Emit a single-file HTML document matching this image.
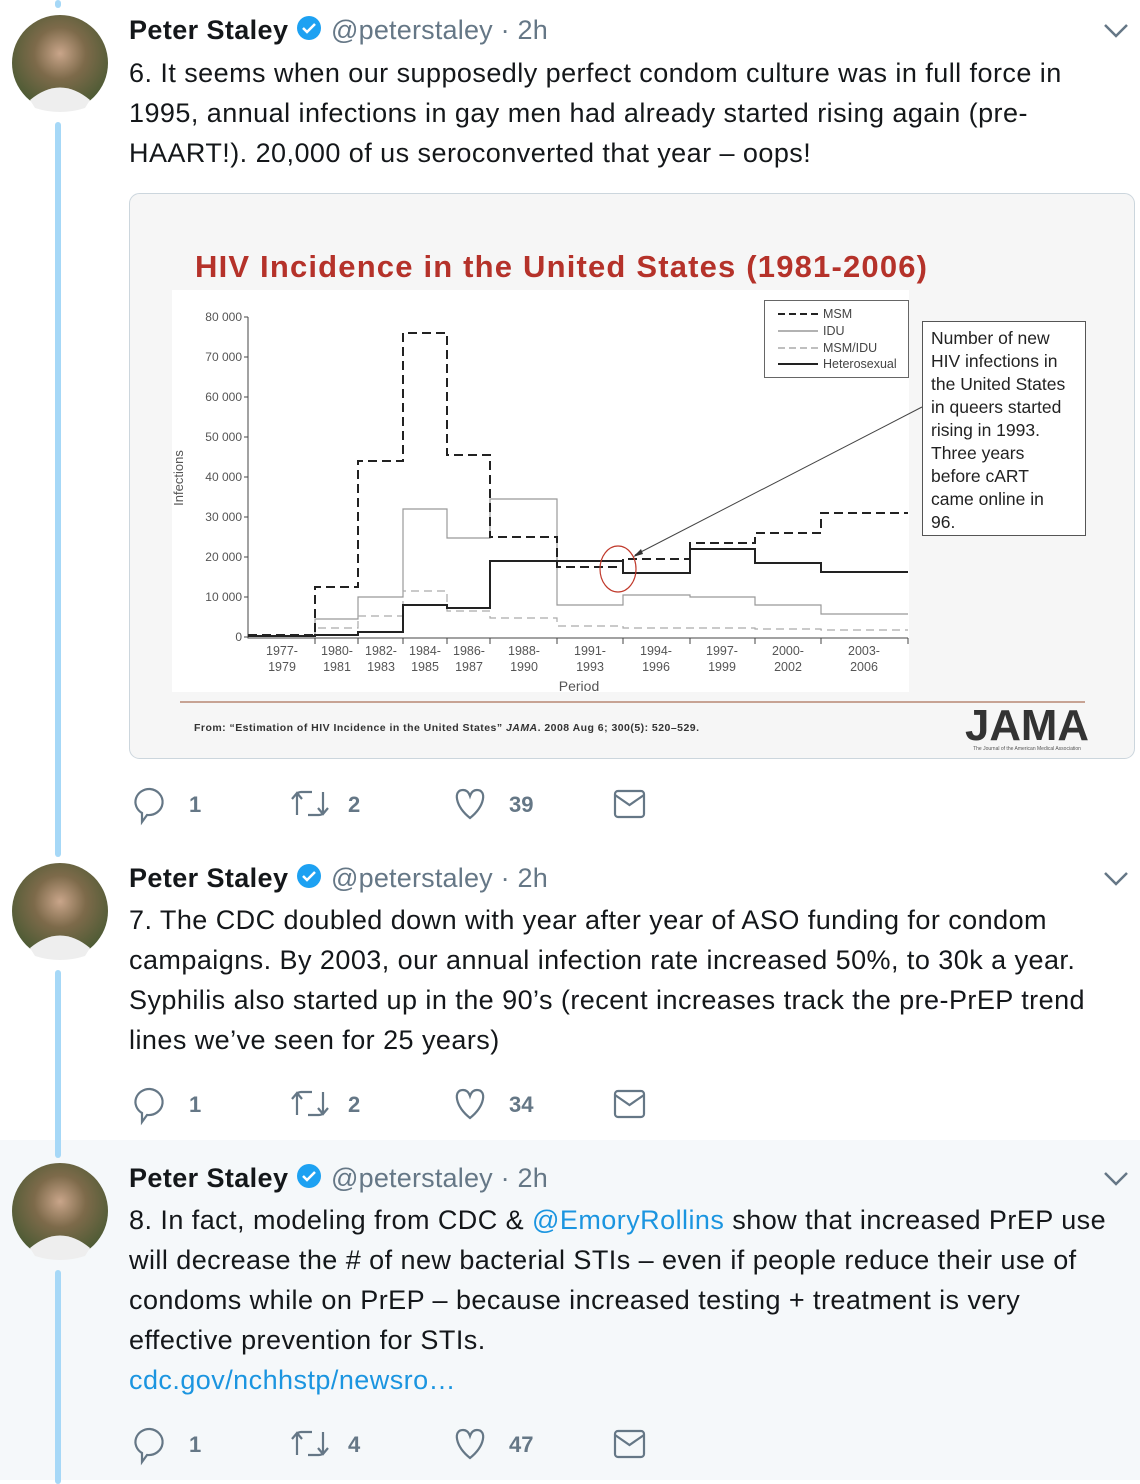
<!DOCTYPE html>
<html><head><meta charset="utf-8"><style>
body{margin:0;width:1140px;height:1484px;position:relative;background:#fff;font-family:"Liberation Sans",sans-serif;overflow:hidden}
.a{position:absolute}
.t{position:absolute;left:129px;font-size:27px;letter-spacing:0.45px;color:#14171a;line-height:40px;white-space:nowrap}
.nm{font-weight:bold;letter-spacing:0.4px}
.h{position:absolute;left:331px;color:#657786;font-size:27px;line-height:40px;white-space:nowrap;letter-spacing:0.2px}
.lnk{color:#1b95e0}
</style></head><body>
<div class="a" style="left:0;top:1140px;width:1140px;height:340px;background:#f5f8fa"></div>
<svg class="a" style="left:0;top:0" width="1140" height="1484" viewBox="0 0 1140 1484" font-family="Liberation Sans, sans-serif">
<defs><radialGradient id="av" cx="50%" cy="40%" r="60%"><stop offset="0" stop-color="#c9a58a"/><stop offset="0.45" stop-color="#7d6a4a"/><stop offset="1" stop-color="#4a5a33"/></radialGradient></defs>
<g fill="#a6d8f7"><rect x="55" y="0" width="6" height="8" rx="3"/><rect x="55" y="122" width="6" height="735" rx="3"/><rect x="55" y="970" width="6" height="188" rx="3"/><rect x="55" y="1270" width="6" height="214" rx="3"/></g>
<g><circle cx="60" cy="63" r="48" fill="url(#av)"/><path d="M30,100 Q60,75 90,100 L85,108 Q60,116 35,108Z" fill="#eee"/>
<circle cx="60" cy="911" r="48" fill="url(#av)"/><path d="M30,948 Q60,923 90,948 L85,956 Q60,964 35,956Z" fill="#eee"/>
<circle cx="60" cy="1211" r="48" fill="url(#av)"/><path d="M30,1248 Q60,1223 90,1248 L85,1256 Q60,1264 35,1256Z" fill="#eee"/></g>
<g fill="none" stroke="#657786" stroke-width="2.5"><path d="M1105,25 L1116,36 L1127,25"/><path d="M1105,873 L1116,884 L1127,873"/><path d="M1105,1173 L1116,1184 L1127,1173"/></g>
<g fill="#1da1f2"><circle cx="309" cy="28" r="12"/><circle cx="309" cy="876" r="12"/><circle cx="309" cy="1176" r="12"/></g>
<g fill="none" stroke="#fff" stroke-width="2.5"><path d="M303,28 l4,4 l8,-8"/><path d="M303,876 l4,4 l8,-8"/><path d="M303,1176 l4,4 l8,-8"/></g>
<rect x="129.5" y="193.5" width="1005" height="565" rx="10" fill="#f6f6f6" stroke="#ccd6dd"/>
<rect x="172" y="290" width="737" height="402" fill="#fff"/>
<text x="195" y="277" font-size="31" font-weight="bold" fill="#b5322a" textLength="732">HIV Incidence in the United States (1981-2006)</text>
<g stroke="#444" stroke-width="1" fill="none"><path d="M248,317 V638 H908"/>
<path d="M244,317H248M244,357H248M244,397H248M244,437H248M244,477H248M244,517H248M244,557H248M244,597H248M244,637H248"/>
<path d="M315,638v6M358,638v6M403,638v6M447,638v6M490,638v6M557,638v6M623,638v6M690,638v6M755,638v6M821,638v6M908,638v6"/></g>
<g font-size="12" fill="#555" text-anchor="end"><text x="242" y="321">80 000</text><text x="242" y="361">70 000</text><text x="242" y="401">60 000</text><text x="242" y="441">50 000</text><text x="242" y="481">40 000</text><text x="242" y="521">30 000</text><text x="242" y="561">20 000</text><text x="242" y="601">10 000</text><text x="242" y="641">0</text></g>
<text transform="translate(183,478) rotate(-90)" font-size="13" fill="#555" text-anchor="middle">Infections</text>
<g font-size="12.5" fill="#555" text-anchor="middle">
<text x="282" y="655">1977-</text><text x="282" y="671">1979</text>
<text x="337" y="655">1980-</text><text x="337" y="671">1981</text>
<text x="381" y="655">1982-</text><text x="381" y="671">1983</text>
<text x="425" y="655">1984-</text><text x="425" y="671">1985</text>
<text x="469" y="655">1986-</text><text x="469" y="671">1987</text>
<text x="524" y="655">1988-</text><text x="524" y="671">1990</text>
<text x="590" y="655">1991-</text><text x="590" y="671">1993</text>
<text x="656" y="655">1994-</text><text x="656" y="671">1996</text>
<text x="722" y="655">1997-</text><text x="722" y="671">1999</text>
<text x="788" y="655">2000-</text><text x="788" y="671">2002</text>
<text x="864" y="655">2003-</text><text x="864" y="671">2006</text>
<text x="579" y="691" font-size="14">Period</text></g>
<g fill="none">
<path d="M248,636 H315 V619 H358 V597 H403 V509 H447 V538 H490 V499 H557 V605 H623 V595 H690 V597 H755 V605 H821 V614 H908" stroke="#999" stroke-width="1.2"/>
<path d="M248,636 H315 V628 H358 V616 H403 V591 H447 V611 H490 V618 H557 V626 H623 V628 H690 V628 H755 V629 H821 V630 H908" stroke="#aaa" stroke-width="1.2" stroke-dasharray="8,5"/>
<path d="M248,636 H315 V635 H358 V632 H403 V605 H447 V608 H490 V561 H557 V561 H623 V573 H690 V549 H755 V563 H821 V572 H908" stroke="#222" stroke-width="2"/>
<path d="M248,635 H315 V587 H358 V461 H403 V333 H447 V455 H490 V537 H557 V567 H623 V559 H690 V543 H755 V533 H821 V513 H908" stroke="#222" stroke-width="2" stroke-dasharray="9,5"/>
</g>
<rect x="764.5" y="300.5" width="144" height="77" fill="#fff" stroke="#666"/>
<g stroke-width="1.5"><path d="M778,314H818" stroke="#222" stroke-width="2" stroke-dasharray="7,4"/><path d="M778,331H818" stroke="#999"/><path d="M778,348H818" stroke="#aaa" stroke-dasharray="7,4"/><path d="M778,364H818" stroke="#222" stroke-width="2"/></g>
<g font-size="12.5" fill="#444"><text x="823" y="318">MSM</text><text x="823" y="335">IDU</text><text x="823" y="352">MSM/IDU</text><text x="823" y="368">Heterosexual</text></g>
<path d="M922,407 L635,555" stroke="#444" stroke-width="1"/><path d="M633,557 l8,-8 l2,5z" fill="#333"/>
<ellipse cx="618" cy="569" rx="18" ry="23" fill="none" stroke="#c0392b" stroke-width="1.2"/>
<rect x="922.5" y="321.5" width="163" height="214" fill="#fff" stroke="#555"/>
<g font-size="17.5" fill="#222"><text x="931" y="344">Number of new</text><text x="931" y="367">HIV infections in</text><text x="931" y="390">the United States</text><text x="931" y="413">in queers started</text><text x="931" y="436">rising in 1993.</text><text x="931" y="459">Three years</text><text x="931" y="482">before cART</text><text x="931" y="505">came online in</text><text x="931" y="528">96.</text></g>
<path d="M180,702 H1085" stroke="#c7a394" stroke-width="2"/>
<text x="194" y="731" font-size="10.5" font-weight="bold" fill="#333" textLength="505">From: “Estimation of HIV Incidence in the United States” <tspan font-style="italic">JAMA</tspan>. 2008 Aug 6; 300(5): 520–529.</text>
<text x="1027" y="740" font-size="44" font-weight="bold" fill="#333" text-anchor="middle" textLength="124" lengthAdjust="spacingAndGlyphs">JAMA</text>
<text x="1027" y="750" font-size="5" fill="#555" text-anchor="middle">The Journal of the American Medical Association</text>
<g id="act" fill="none" stroke="#657786" stroke-width="2.2">
<path d="M150,789 a14,13 0 1 1 -3,26 l-5,7 v-9 a14,13 0 0 1 8,-24z"/>
<path d="M297,815 v-19 q0,-4 4,-4 h11 M292,799 l5,-6 l5,6 M323,792 v19 q0,4 -4,4 h-11 M318,808 l5,6 l5,-6"/>
<path d="M470,818 C455,806 453,790 463,790 C467,790 469,793 470,796 C471,793 473,790 477,790 C487,790 485,806 470,818z"/>
<rect x="615" y="791" width="29" height="26" rx="3"/><path d="M615,795 l14.5,10 l14.5,-10"/>
</g>
<use href="#act" y="300"/><use href="#act" y="640"/>
<g font-size="22" font-weight="bold" fill="#657786"><text x="189" y="812">1</text><text x="348" y="812">2</text><text x="509" y="812">39</text>
<text x="189" y="1112">1</text><text x="348" y="1112">2</text><text x="509" y="1112">34</text>
<text x="189" y="1452">1</text><text x="348" y="1452">4</text><text x="509" y="1452">47</text></g>
</svg>
<div class="t" style="top:10px"><span class="nm">Peter Staley</span></div><div class="h" style="top:10px">@peterstaley · 2h</div>
<div class="t" style="top:53px">6. It seems when our supposedly perfect condom culture was in full force in<br>1995, annual infections in gay men had already started rising again (pre-<br>HAART!). 20,000 of us seroconverted that year – oops!</div>
<div class="t" style="top:858px"><span class="nm">Peter Staley</span></div><div class="h" style="top:858px">@peterstaley · 2h</div>
<div class="t" style="top:900px">7. The CDC doubled down with year after year of ASO funding for condom<br>campaigns. By 2003, our annual infection rate increased 50%, to 30k a year.<br>Syphilis also started up in the 90’s (recent increases track the pre-PrEP trend<br>lines we’ve seen for 25 years)</div>
<div class="t" style="top:1158px"><span class="nm">Peter Staley</span></div><div class="h" style="top:1158px">@peterstaley · 2h</div>
<div class="t" style="top:1200px">8. In fact, modeling from CDC &amp; <span class="lnk">@EmoryRollins</span> show that increased PrEP use<br>will decrease the # of new bacterial STIs – even if people reduce their use of<br>condoms while on PrEP – because increased testing + treatment is very<br>effective prevention for STIs.<br><span class="lnk">cdc.gov/nchhstp/newsro…</span></div>
</body></html>
